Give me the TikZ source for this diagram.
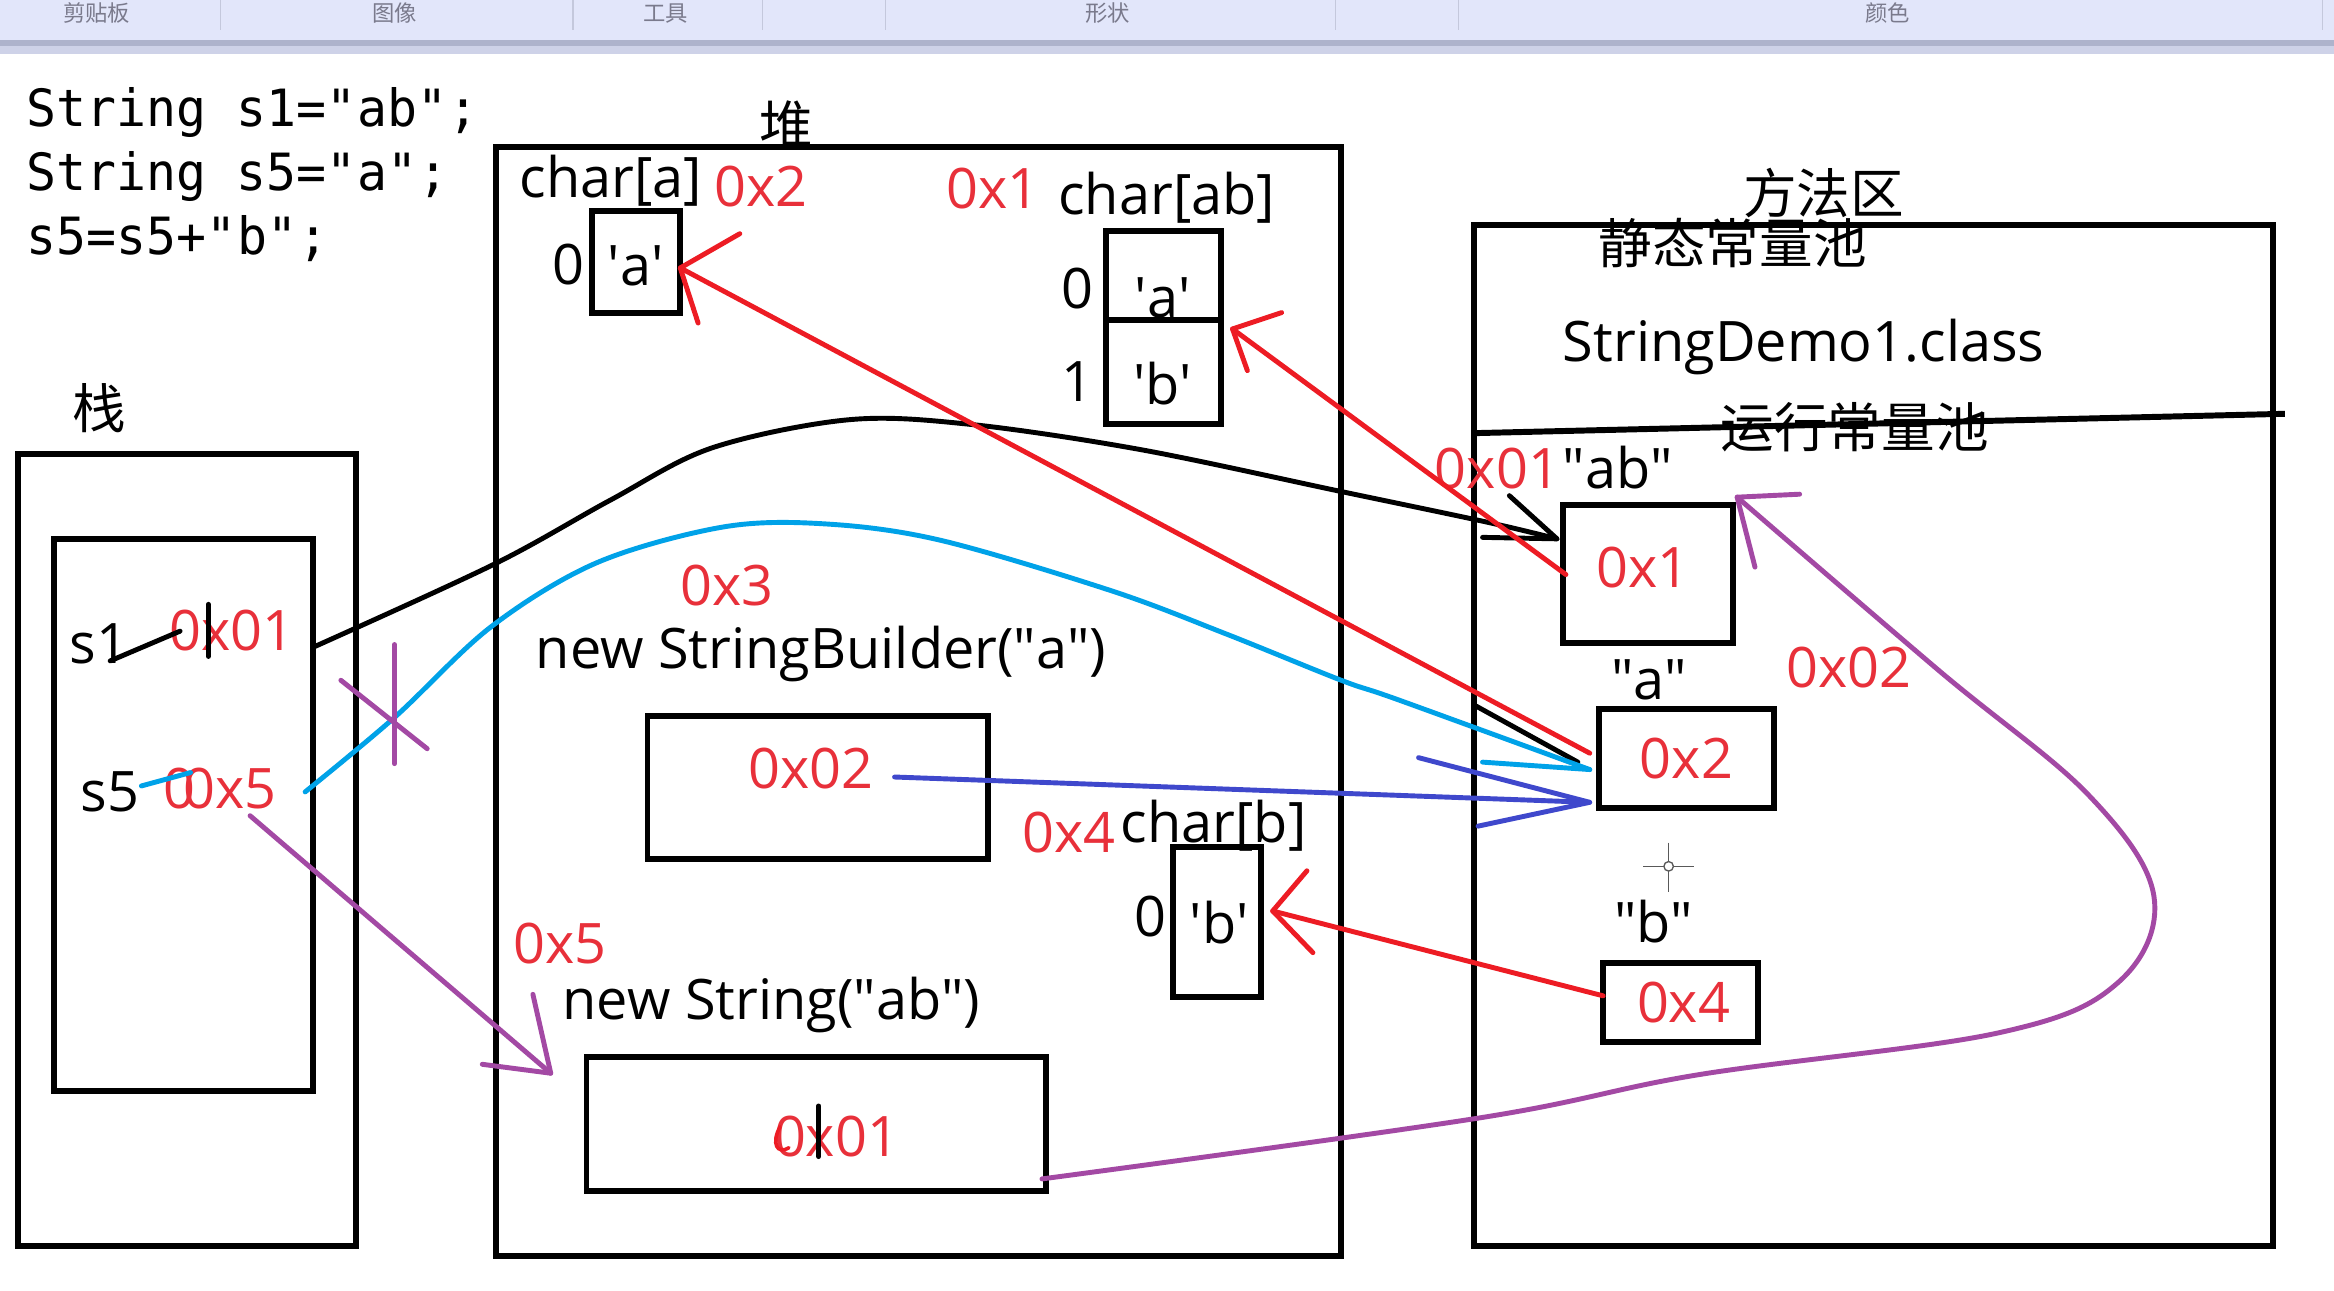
\documentclass[tikz,border=0pt]{standalone}
\usepackage{fontspec}
\setmainfont{Open Sans}
\newfontfamily\cjk{Noto Sans CJK SC}
\newfontfamily\codefont[FakeStretch=0.97]{DejaVu Sans Mono}
\newcommand\dq{\textquotedbl}
\newcommand\sq{\textquotesingle}
\definecolor{pred}{HTML}{ED1C24}
\definecolor{tred}{HTML}{E8303A}
\definecolor{pcyan}{HTML}{00A2E8}
\definecolor{pindigo}{HTML}{3F48CC}
\definecolor{ppurple}{HTML}{A349A4}
\definecolor{barbg}{HTML}{E2E6FA}
\definecolor{barline}{HTML}{AEB3CC}
\definecolor{barlow}{HTML}{CED2E8}
\definecolor{barsep}{HTML}{C4C8DC}
\definecolor{tbtext}{HTML}{7A7A8C}
\begin{document}
\begin{tikzpicture}[x=1pt,y=-1pt,
  box/.style={draw=black,line width=4pt,inner sep=0pt,outer sep=0pt,anchor=north west},
  lab/.style={inner sep=0pt,outer sep=0pt,anchor=base west,font=\fontsize{37.5}{40}\selectfont},
  labc/.style={lab,anchor=base},
  addr/.style={lab,text=tred},
  addrc/.style={labc,text=tred},
  code/.style={inner sep=0pt,outer sep=0pt,anchor=base west,font=\codefont\fontsize{34.5}{37}\selectfont},
  zh/.style={inner sep=0pt,outer sep=0pt,anchor=center,font=\cjk\fontsize{36}{40}\selectfont},
  tb/.style={inner sep=0pt,anchor=center,text=tbtext,font=\cjk\fontsize{15}{16}\selectfont},
  wire/.style={line width=3.3pt,line cap=round,line join=round},
  pen/.style={line width=3.3pt,line cap=round}]
\useasboundingbox (0,0) rectangle (1568,867);
\fill[white] (0,0) rectangle (1568,867);
% toolbar strip
\fill[barbg] (0,0) rectangle (1568,27);
\fill[barline] (0,27) rectangle (1568,31);
\fill[barlow] (0,31) rectangle (1568,36);
\foreach \x in {148,385,512,595,897,980,1560} \draw[barsep,line width=0.8pt] (\x,0) -- (\x,20);
\node[tb] (tb1) at (65,9) {剪贴板};
\node[tb] (tb2) at (265,9) {图像};
\node[tb] (tb3) at (447,9) {工具};
\node[tb] (tb4) at (744,9) {形状};
\node[tb] (tb5) at (1268,9) {颜色};
% code
\node[code] (c1) at (18,85) {String s1=\dq ab\dq;};
\node[code] (c2) at (18,128) {String s5=\dq a\dq;};
\node[code] (c3) at (18,171) {s5=s5+\dq b\dq;};
% stack
\node[zh] (zhan) at (67,274) {栈};
\node[box,minimum width=227pt,minimum height=532pt] (stack) at (12,305) {};
\node[box,minimum width=174pt,minimum height=371pt] (frame) at (36,362) {};
\node[lab] (s1) at (47,446) {s1};
\node[addr] (s1v) at (114,437) {0x01};
\node[lab] (s5) at (54,545) {s5};
\node[addr] (s5z) at (110,543) {0};
\node[addr] (s5v) at (123,543) {0x5};
% heap
\node[zh] (dui) at (528,84) {堆};
\node[box,minimum width=568pt,minimum height=745pt] (heap) at (333,99) {};
\node[lab] (chara) at (349,133) {char[a]};
\node[addr] (h0x2) at (480,139) {0x2};
\node[box,minimum width=59pt,minimum height=68pt] (boxA) at (398,142) {};
\node[labc] (ia0) at (382,191) {0};
\node[labc] (ca) at (427,192) {\sq a\sq};
\node[addr] (h0x1) at (636,140) {0x1};
\node[lab] (charab) at (711,144) {char[ab]};
\node[box,minimum width=77pt,minimum height=130pt] (boxAB) at (743,155) {};
\draw[line width=4pt] ([yshift=-60pt]boxAB.north west) -- ([yshift=-60pt]boxAB.north east);
\node[labc] (iab0) at (724,207) {0};
\node[labc] (iab1) at (724,270) {1};
\node[labc] (cab0) at (781,213) {\sq a\sq};
\node[labc] (cab1) at (781,272) {\sq b\sq};
\node[addr] (h0x3) at (457,407) {0x3};
\node[lab] (sbtext) at (360,449) {new StringBuilder(\dq a\dq)};
\node[box,minimum width=229pt,minimum height=96pt] (sbbox) at (435,481) {};
\node[addr] (sbv) at (503,530) {0x02};
\node[addr] (h0x4) at (687,573) {0x4};
\node[lab] (charb) at (753,566) {char[b]};
\node[box,minimum width=59pt,minimum height=101pt] (boxB) at (788,569) {};
\node[labc] (ib0) at (773,629) {0};
\node[labc] (cb0) at (819,634) {\sq b\sq};
\node[addr] (h0x5) at (345,647) {0x5};
\node[lab] (nstext) at (378,685) {new String(\dq ab\dq)};
\node[box,minimum width=309pt,minimum height=90pt] (nsbox) at (394,710) {};
\node[addr] (nsv) at (520,777) {0x01};
% method area
\node[zh] (ffq) at (1225,130) {方法区};
\node[box,minimum width=537pt,minimum height=686pt] (method) at (990,151) {};
\node[zh] (static) at (1164,163) {静态常量池};
\node[lab] (cls) at (1050,243) {StringDemo1.class};
\coordinate (sepL) at (990,291);
\coordinate (sepR) at (1535,278);
\draw[line width=4pt] (sepL) -- (sepR);
\node[zh] (runtime) at (1246,287) {运行常量池};
\node[addr] (m0x01) at (964,328) {0x01};
\node[lab] (mab) at (1050,328) {\dq ab\dq};
\node[box,minimum width=114pt,minimum height=93pt] (box01) at (1050,339) {};
\node[addrc] (v01) at (1104,395) {0x1};
\node[labc] (qa) at (1108,470) {\dq a\dq};
\node[addr] (m0x02) at (1200,462) {0x02};
\node[box,minimum width=118pt,minimum height=67pt] (box02) at (1074,476) {};
\node[addrc] (v02) at (1133,523) {0x2};
\node[labc] (qb) at (1111,633) {\dq b\dq};
\node[box,minimum width=104pt,minimum height=53pt] (box04) at (1077,647) {};
\node[addrc] (v04) at (1131,687) {0x4};
% cursor crosshair
\coordinate (cur) at (1121,582);
\draw[line width=0.9pt,black!65] ([yshift=16pt]cur) -- ([yshift=-17pt]cur) ([xshift=-17pt]cur) -- ([xshift=17pt]cur);
\draw[line width=0.9pt,black!65,fill=white] (cur) circle (3.2pt);
% small marks
\draw[pen] (74,444) -- (121,424);
\draw[pen] (140,406) -- (140,441);
\draw[pen,pcyan] (95,528) -- (128,519);
\draw[pen] (550,743) -- (550,777);
\draw[line width=2.4pt,pred,line cap=round] (524,757) .. controls (518,768) and (522,776) .. (530,771);
% black curve s1 -> 0x1
\coordinate (bk0) at (210,435);
\coordinate (bkT) at (1046,362);
\draw[wire] plot[smooth,tension=0.55] coordinates {(bk0) (332,379) (410,336) (478,301) (570,282) (651,285) (766,302) (900,330) (1000,351) (bkT)};
\draw[wire] (1014,333) -- (bkT) -- (996,361);
\draw[wire] (991,474) -- (1060,512);
% cyan curve s5 -> 0x2
\coordinate (cy0) at (205,532);
\coordinate (cyT) at (1068,517);
\draw[wire,pcyan] plot[smooth,tension=0.55] coordinates {(cy0) (265,482) (330,421) (401,378) (486,354) (555,352) (632,363) (747,397) (824,426) (901,457) (939,470) (cyT)};
\draw[wire,pcyan] (996,512) -- (cyT);
% indigo StringBuilder -> 0x2
\coordinate (in0) at (601,522);
\coordinate (inT) at (1068,539);
\draw[wire,pindigo] (in0) -- (inT);
\draw[wire,pindigo] (953,509) -- (inT) -- (993,555);
% red arrows
\coordinate (r1s) at (1068,506);
\coordinate (r1t) at (457,180);
\draw[wire,pred] (r1s) -- (r1t);
\draw[wire,pred] (497,157) -- (r1t) -- (469,217);
\coordinate (r2s) at (1052,386);
\coordinate (r2t) at (828,221);
\draw[wire,pred] (r2s) -- (r2t);
\draw[wire,pred] (861,210) -- (r2t) -- (838,249);
\coordinate (r3s) at (1077,669);
\coordinate (r3t) at (855,612);
\draw[wire,pred] (r3s) -- (r3t);
\draw[wire,pred] (878,585) -- (r3t) -- (882,640);
% purple
\coordinate (p1s) at (168,548);
\coordinate (p1t) at (370,721);
\draw[wire,ppurple] (p1s) -- (p1t);
\draw[wire,ppurple] (358,668) -- (p1t) -- (324,715);
\draw[wire,ppurple] (265,433) -- (265,513);
\draw[wire,ppurple] (229,457) -- (287,503);
\coordinate (p2s) at (700,792);
\coordinate (p2t) at (1167,334);
\draw[wire,ppurple] plot[smooth,tension=0.6] coordinates {(p2s) (994,751) (1141,722) (1342,694) (1423,660) (1447,602) (1403,534) (1302,450) (p2t)};
\draw[wire,ppurple] (1209,332) -- (p2t) -- (1179,381);
\end{tikzpicture}
\end{document}
